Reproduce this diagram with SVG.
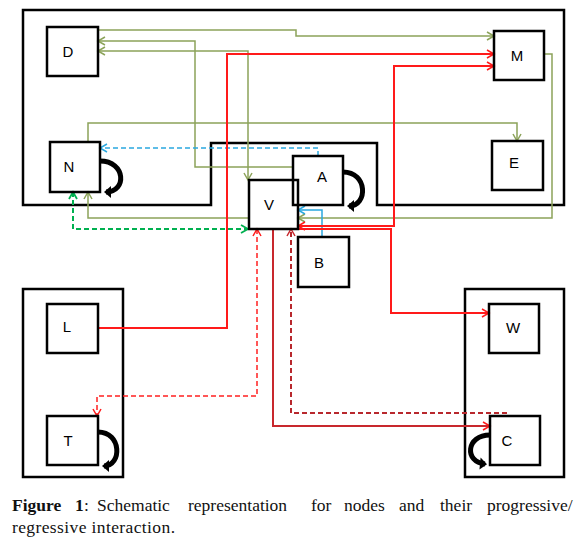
<svg xmlns="http://www.w3.org/2000/svg" width="587" height="543" viewBox="0 0 587 543">
<style>
.box{fill:none;stroke:#000;stroke-width:2.5}
.lbl{font-family:"Liberation Sans",Arial,sans-serif;font-size:15px;text-anchor:middle;fill:#000}
.g{fill:none;stroke:#8CA35A;stroke-width:1.5}
.gd{fill:none;stroke:#00B050;stroke-width:2;stroke-dasharray:5,3}
.bd{fill:none;stroke:#2AA8E0;stroke-width:1.5;stroke-dasharray:5,3}
.b{fill:none;stroke:#2AA8E0;stroke-width:1.5}
.r{fill:none;stroke:#FF1A1A;stroke-width:2}
.dr{fill:none;stroke:#C8282D;stroke-width:2}
.rd{fill:none;stroke:#FF2020;stroke-width:1.5;stroke-dasharray:5,3}
.drd{fill:none;stroke:#B8282D;stroke-width:2;stroke-dasharray:5,3}
.loop{fill:none;stroke:#000;stroke-width:5}
.cap{font-family:"Liberation Serif","Times New Roman",serif;font-size:17.5px;fill:#111}
</style>
<defs>
<marker id="ag" viewBox="-9 -6 11 12" refX="0" refY="0" markerWidth="11" markerHeight="12" markerUnits="userSpaceOnUse" orient="auto-start-reverse"><path d="M-7,-4 L0,0 L-7,4" fill="none" stroke="#8CA35A" stroke-width="1.5"/></marker>
<marker id="agd" viewBox="-9 -6 11 12" refX="0" refY="0" markerWidth="11" markerHeight="12" markerUnits="userSpaceOnUse" orient="auto-start-reverse"><path d="M-7,-4 L0,0 L-7,4" fill="none" stroke="#00B050" stroke-width="1.8"/></marker>
<marker id="ab" viewBox="-9 -6 11 12" refX="0" refY="0" markerWidth="11" markerHeight="12" markerUnits="userSpaceOnUse" orient="auto-start-reverse"><path d="M-7,-4 L0,0 L-7,4" fill="none" stroke="#2AA8E0" stroke-width="1.5"/></marker>
<marker id="ar" viewBox="-9 -6 11 12" refX="0" refY="0" markerWidth="11" markerHeight="12" markerUnits="userSpaceOnUse" orient="auto-start-reverse"><path d="M-7,-4 L0,0 L-7,4" fill="none" stroke="#FF1A1A" stroke-width="1.5"/></marker>
<marker id="adr" viewBox="-9 -6 11 12" refX="0" refY="0" markerWidth="11" markerHeight="12" markerUnits="userSpaceOnUse" orient="auto-start-reverse"><path d="M-7,-4 L0,0 L-7,4" fill="none" stroke="#C8282D" stroke-width="1.5"/></marker>
<marker id="ak" viewBox="-7 -7 10 14" refX="0" refY="0" markerWidth="10" markerHeight="14" markerUnits="userSpaceOnUse" orient="auto"><path d="M-5,-6 L2,0 L-5,6 Z" fill="#000"/></marker>
</defs>

<g id="containers">
<path class="box" d="M23,10 H564 V205 H377 V143 H211 V205 H23 Z"/>
<rect class="box" x="23" y="289" width="100" height="188"/>
<rect class="box" x="465" y="289" width="99" height="188"/>
</g>

<g id="connectors">
<path class="g" d="M98,30 H296 V36 H494" marker-end="url(#ag)"/>
<path class="g" d="M293,167 H195 V41 H98" marker-end="url(#ag)"/>
<path class="g" d="M98,51 H248 V180" marker-start="url(#ag)" marker-end="url(#ag)"/>
<path class="g" d="M88,142 V123 H517 V141" marker-end="url(#ag)"/>
<path class="g" d="M544,54 H552 V218 H298" marker-end="url(#ag)"/>
<path class="g" d="M249,218 H88 V192" marker-end="url(#ag)"/>
<path class="gd" d="M73,192 V229 H248" marker-start="url(#agd)" marker-end="url(#agd)"/>
<path class="bd" d="M318,156 V148 H100" marker-end="url(#ab)"/>
<path class="b" d="M322,237 V210 H298" marker-end="url(#ab)"/>
<path class="r" d="M98,328 H227 V54 H494" marker-end="url(#ar)"/>
<path class="r" d="M298,226 H394 V66 H494" marker-start="url(#ar)" marker-end="url(#ar)"/>
<path class="r" d="M298,229 H391 V313 H489" marker-end="url(#ar)"/>
<path class="dr" d="M273,229 V426 H490" marker-end="url(#ar)"/>
<path class="rd" d="M257,229 V396 H97 V416" marker-start="url(#ar)" marker-end="url(#ar)"/>
<path class="drd" d="M507,413 H291 V229" marker-end="url(#adr)"/>
<path class="loop" d="M100,161 C126,161 127,192 106,192" marker-end="url(#ak)"/>
<path class="loop" d="M343,172 C368,172 368,206 349,206" marker-end="url(#ak)"/>
<path class="loop" d="M98,432 C122,432 122,466 104,466" marker-end="url(#ak)"/>
<path class="loop" d="M490,435 C466,435 464,462 485,464" marker-end="url(#ak)"/>
</g>

<g id="D"><rect class="box" x="47" y="27" width="51" height="49"/><text class="lbl" x="68" y="57">D</text></g>
<g id="N"><rect class="box" x="50" y="142" width="50" height="50"/><text class="lbl" x="69" y="172">N</text></g>
<g id="V"><rect class="box" x="249" y="180" width="49" height="49"/><text class="lbl" x="269" y="210">V</text></g>
<g id="A"><rect class="box" x="293" y="156" width="50" height="49"/><text class="lbl" x="322" y="182">A</text></g>
<g id="M"><rect class="box" x="494" y="31" width="50" height="49"/><text class="lbl" x="517" y="61">M</text></g>
<g id="E"><rect class="box" x="492" y="141" width="51" height="49"/><text class="lbl" x="514" y="168">E</text></g>
<g id="B"><rect class="box" x="298" y="237" width="51" height="50"/><text class="lbl" x="319" y="268">B</text></g>
<g id="L"><rect class="box" x="47" y="304" width="51" height="49"/><text class="lbl" x="67" y="332">L</text></g>
<g id="T"><rect class="box" x="47" y="416" width="51" height="49"/><text class="lbl" x="68" y="446">T</text></g>
<g id="W"><rect class="box" x="489" y="304" width="50" height="49"/><text class="lbl" x="513" y="333">W</text></g>
<g id="C"><rect class="box" x="490" y="416" width="50" height="49"/><text class="lbl" x="507" y="446">C</text></g>

<g id="caption">
<text class="cap" y="511"><tspan x="12" font-weight="bold">Figure</tspan><tspan x="75" font-weight="bold">1</tspan><tspan x="84">:</tspan><tspan x="97">Schematic</tspan><tspan x="188">representation</tspan><tspan x="311">for</tspan><tspan x="344">nodes</tspan><tspan x="399">and</tspan><tspan x="440">their</tspan><tspan x="487">progressive/</tspan></text>
<text class="cap" x="12" y="533" textLength="163" lengthAdjust="spacing">regressive interaction.</text>
</g>
</svg>
